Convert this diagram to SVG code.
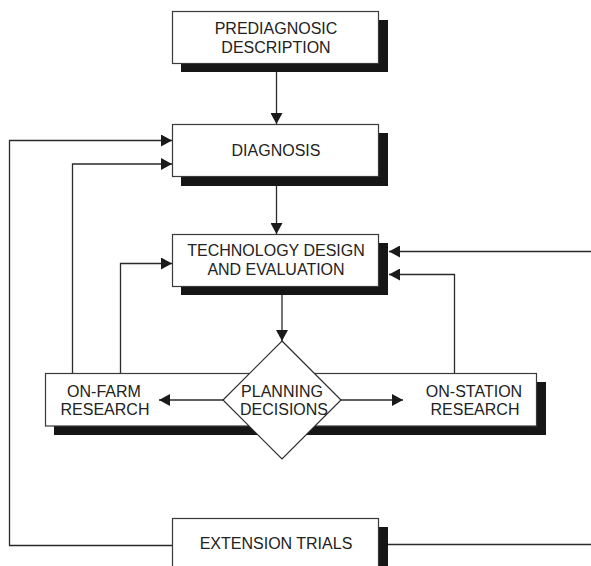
<svg xmlns="http://www.w3.org/2000/svg" width="591" height="566" viewBox="0 0 591 566">
  <style>
    .box { fill: #fff; stroke: #3a3a3a; stroke-width: 1.2; }
    .shadow { fill: #161616; }
    .lbl { font-family: "Liberation Sans", Arial, sans-serif; font-size: 16px; fill: #222; text-anchor: middle; }
    .wire { fill: none; stroke: #2a2a2a; stroke-width: 1.3; }
    .arrow { marker-end: url(#head); }
  </style>
  <defs>
    <marker id="head" markerUnits="userSpaceOnUse" markerWidth="12" markerHeight="12" refX="11" refY="6" orient="auto">
      <path d="M0,0 L11,6 L0,12 z" fill="#1a1a1a"/>
    </marker>
  </defs>
  <rect width="591" height="566" fill="#fff"/>

  <!-- feedback and flow connectors -->
  <g id="connectors">
    <path class="wire arrow" d="M276.5,72 V124"/>
    <path class="wire arrow" d="M276.5,186 V234"/>
    <path class="wire arrow" d="M282,295 V341"/>
    <path class="wire arrow" d="M172,545.5 H9.5 V140.5 H172"/>
    <path class="wire arrow" d="M72.5,373 V164 H172"/>
    <path class="wire arrow" d="M120.5,373 V263.5 H172"/>
    <path class="wire arrow" d="M454.5,373 V274.5 H389"/>
    <path class="wire arrow" d="M591,251.5 H389"/>
    <path class="wire" d="M388,544.5 H591"/>
  </g>

  <g id="prediagnosic">
    <rect class="shadow" x="181" y="20" width="207" height="52"/>
    <rect class="box" x="172.5" y="11.5" width="206" height="52"/>
    <text class="lbl" x="276" y="34">PREDIAGNOSIC</text>
    <text class="lbl" x="276" y="53">DESCRIPTION</text>
  </g>

  <g id="diagnosis">
    <rect class="shadow" x="181" y="133" width="207" height="53"/>
    <rect class="box" x="172.5" y="124.5" width="206" height="52"/>
    <text class="lbl" x="276" y="156">DIAGNOSIS</text>
  </g>

  <g id="technology">
    <rect class="shadow" x="181" y="243" width="207" height="52"/>
    <rect class="box" x="172.5" y="234.5" width="206" height="52"/>
    <text class="lbl" x="276" y="256">TECHNOLOGY DESIGN</text>
    <text class="lbl" x="276" y="275">AND EVALUATION</text>
  </g>

  <g id="on-farm">
    <rect class="shadow" x="54" y="382" width="236" height="53"/>
    <rect class="box" x="45.5" y="373.5" width="236.5" height="52.5"/>
    <text class="lbl" x="104" y="397">ON-FARM</text>
    <text class="lbl" x="105" y="415">RESEARCH</text>
  </g>

  <g id="on-station">
    <rect class="shadow" x="291" y="382" width="255" height="53"/>
    <rect class="box" x="282" y="373.5" width="254.5" height="52.5"/>
    <text class="lbl" x="474" y="397">ON-STATION</text>
    <text class="lbl" x="475" y="415">RESEARCH</text>
  </g>

  <g id="planning">
    <polygon points="282,341 341,400 282,459 223,400" fill="#fff" stroke="#2a2a2a" stroke-width="1.2"/>
    <text class="lbl" x="282" y="397">PLANNING</text>
    <text class="lbl" x="284" y="415">DECISIONS</text>
  </g>

  <g id="branch-arrows">
    <path class="wire arrow" d="M223,400 H159"/>
    <path class="wire arrow" d="M341,400 H403"/>
  </g>

  <g id="extension">
    <rect class="shadow" x="181" y="527" width="207" height="50"/>
    <rect class="box" x="172.5" y="518.5" width="206" height="60"/>
    <text class="lbl" x="276" y="549">EXTENSION TRIALS</text>
  </g>
</svg>
